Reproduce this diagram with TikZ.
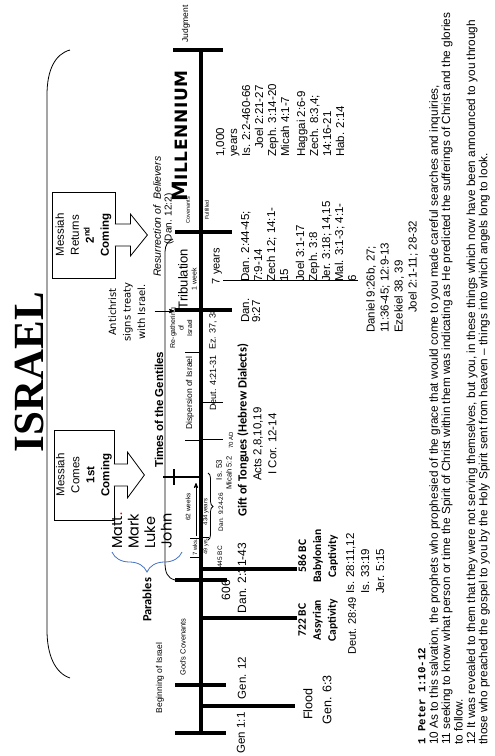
\documentclass[tikz,border=0pt]{standalone}
\usepackage{fontspec}
\setmainfont{Liberation Sans}
\newfontfamily\isfont{Liberation Serif}
\newfontfamily\ptfont{Liberation Mono}
\newfontfamily\bdfont{Carlito}
\newfontfamily\trfont{DejaVu Sans}
\newfontfamily\gofont{Poppins}
\usepackage{tikz}
\usetikzlibrary{arrows,calc,decorations.pathreplacing}
\newcommand{\fsz}[2]{\fontsize{#1}{#2}\selectfont}
\definecolor{braceblue}{RGB}{68,114,196}
\tikzstyle{line}=[draw]
\tikzstyle{tick}=[line width=4pt]
\tikzstyle{thinline}=[line width=0.8pt]
\tikzstyle{coming}=[draw, line width=0.8pt, minimum width=90pt, minimum height=60pt, align=center, font=\fsz{11.5}{15}]

\begin{document}
\begin{tikzpicture}[x=1pt,y=-1pt,>=stealth',every node/.style={rotate=90,inner sep=0pt}]
\useasboundingbox (0,0) rectangle (495,756);
%\draw[help lines] (0,0) grid (495,756);
% the time line
\draw[line,tick] (201,50)--(201,733);
\draw[line,tick] (175,733)--(226,733);
\draw[line,tick] (175,685)--(226,685);
\draw[line,tick] (201,706)--(295,706);
\draw[line,tick] (201,618)--(297,618);
\draw[line,tick] (175,580)--(227,580);
\draw[line,tick] (201,569)--(297,569);
\draw[line,tick] (175,310)--(232,310);
\draw[line,tick] (175,232)--(232,232);
\draw[line,tick] (173,50)--(223,50);
\draw[line,thinline] (185,440)--(201,440);
\draw[line,thinline] (185,352)--(201,352);
\draw[line,thinline] (201,439)--(223,439);
\draw[line,thinline] (201,402)--(223,402);
\draw[line,thinline] (190,557)--(201,557);
\draw[line,thinline] (190,538)--(201,538);
\draw[line,thinline] (201,537)--(209,537);
\draw[line,line width=1.6pt] (163,477)--(201,477);
\draw[line,line width=1.6pt] (174,469)--(174,485);
\draw[line,thinline,->] (196,536)--(196,483);
\draw[line,thinline] (223,280)--(358,280);
% brackets
\draw[line,thinline] (70,50) .. controls (55,54) and (47,70) .. (47,95)--(47,630) .. controls (47,655) and (55,673) .. (70,678);
\draw[line,thinline] (175,580) .. controls (167,578) and (165,572) .. (165,562)--(165,252) .. controls (165,245) and (168,241) .. (173,239);
\draw[line,braceblue,thinline,decorate,decoration={brace,amplitude=20pt}] (182,552)--(112,552);
\draw[line,thinline,decorate,decoration={brace,amplitude=5pt}] (208,473)--(208,540);

\node[font=\isfont\bfseries\fsz{43}{43}] (title) at (29,372) {ISRAEL};

% comings
\node[coming] (first) at (84,475) {Messiah\\Comes\\\textbf{1st}\\\textbf{Coming}};
\filldraw[line,thinline,fill=white] ($(first.south)+(-0.6,-11)$)--++(13.6,0)--++(0,-12)--++(17,23)--++(-17,23)--++(0,-12)--++(-13.6,0);
\node[coming,minimum width=86pt,minimum height=63pt] (second) at (83.5,235) {Messiah\\Returns\\\textbf{2\textsuperscript{nd}}\\\textbf{Coming}};
\filldraw[line,thinline,fill=white] ($(second.south)+(-0.6,-11)$)--++(15.6,0)--++(0,-10)--++(17,21)--++(-17,21)--++(0,-10)--++(-15.6,0);

\node[font=\trfont\fsz{10}{14.5},align=center] (treaty) at (127,312) {Antichrist\\signs treaty\\with Israel.};
\coordinate (treatyhead) at (174,311);
\draw[line,thinline,->] ($(treaty.south)+(9,-1)$)--(treatyhead);

% above the line
\node[font=\gofont\fsz{14.5}{16.5},align=left,anchor=north west] (gospels) at (112,549) {Matt\textcolor{red}{.}\\Mark\\Luke\\John};
\node[font=\bdfont\bfseries\fsz{12.5}{12.5}] (parables) at (147,600) {Parables};
\node[font=\fsz{8.5}{8.5}] (beginning) at (160,678) {Beginning of Israel};
\node[font=\fsz{7.5}{7.5}] (covenants) at (183,647) {God's Covenants};
\node[font=\bfseries\fsz{11.5}{11.5},anchor=west] (gentiles) at (159,468) {Times of the Gentiles};
\node[font=\fsz{6}{6}] (sevenwks) at (195,547) {7 wks.};
\node[font=\fsz{6.5}{6.5}] (sixtytwo) at (188,507) {62 weeks};
\node[font=\fsz{8.5}{8.5}] (dispersion) at (190,393) {Dispersion of Israel};
\node[font=\fsz{7}{8.5},align=center] (regather) at (181,328) {Re-gathering\\of\\Israel};
\node[font=\fsz{13}{13}] (trib) at (183,279) {Tribulation};
\node[font=\fsz{7}{7}] (week) at (194,279) {1 week};
\node[font=\itshape\fsz{10.5}{10.5},anchor=west] (resur) at (157,277) {Resurrection of \ Believers};
\node[font=\fsz{10}{10}] (danxii) at (169,219) {(Dan. 12:2)};
\node[font=\fsz{5.5}{5.5}] (cov) at (188,210) {Covenants};
\node[font=\fsz{5.5}{5.5}] (ful) at (207,210) {Fulfilled};
\node[font=\trfont\bfseries\addfontfeature{LetterSpace=4}] (mill) at (180,136) {\fsz{21}{21}M\fsz{17}{17}ILLENNIUM};
\node[font=\fsz{8.5}{8.5}] (judg) at (186,24) {Judgment};

% below the line
\node[font=\fsz{11.5}{11.5}] (genone) at (241,733) {Gen 1:1};
\node[font=\fsz{11.5}{11.5}] (gentwelve) at (242,678) {Gen. 12};
\node[font=\fsz{12.5}{12.5}] (flood) at (308,704) {Flood};
\node[font=\fsz{12.5}{12.5}] (gensix) at (327,700) {Gen. 6:3};
\node[font=\bdfont\bfseries\fsz{11.5}{15},align=center] (assyria) at (318,620) {722 BC\\Assyrian\\Captivity};
\node[font=\fsz{11}{11},anchor=west] (deut) at (352,655) {Deut. 28:49};
\node[font=\bdfont\bfseries\fsz{11.5}{15},align=center] (babylon) at (318,556) {586 BC\\Babylonian\\Captivity};
\node[font=\fsz{11.5}{15},align=left,anchor=north west] (isaiah) at (346,594) {Is. 28:11,12\\Is. 33:19\\Jer. 5:15};
\node[font=\fsz{12}{12}] (sixohsix) at (226,590) {606};
\node[font=\fsz{12}{12}] (danii) at (242,578) {Dan. 2:31-43};
\node[font=\fsz{5.5}{5.5}] (fortynine) at (206,546) {49 yrs.};
\node[font=\fsz{6}{6}] (fourthirtyfour) at (206,512) {434 years};
\node[font=\fsz{6.5}{6.5}] (bc) at (220,557) {445 BC};
\node[font=\fsz{6.5}{6.5}] (danix) at (221,512) {Dan. 9:24-26};
\node[font=\fsz{8}{8}] (isliii) at (219,470) {Is. 53};
\node[font=\fsz{7.5}{7.5}] (micah) at (229,473) {Micah 5:2};
\node[font=\fsz{6}{6}] (ad) at (231,440) {70 AD};
\node[font=\fsz{9}{9}] (deutiv) at (213,383) {Deut. 4:21-31};
\node[font=\fsz{9}{9}] (ezek) at (213,329) {Ez. 37, 38};
\node[font=\bdfont\bfseries\fsz{12.5}{12.5},anchor=west] (tongues) at (243,517) {Gift of Tongues (Hebrew Dialects)};
\node[font=\fsz{11.5}{15},align=center] (acts) at (265,444) {Acts 2,8,10,19\\I Cor. 12-14};
\node[font=\fsz{11}{11}] (sevenyrs) at (217,266) {7 years};
\node[font=\fsz{11.5}{11},align=left,anchor=north west] (danixxvii) at (241,323) {Dan.\\9:27};
\node[font=\fsz{11.5}{13},align=left,anchor=north west] (tribrefs) at (241,282) {Dan. 2:44-45;\\7:9-14\\Zech 12; 14:1-\\15\\[3pt]Joel 3:1-17\\Zeph. 3:8\\Jer. 3:18; 14,15\\Mal. 3:1-3; 4:1-\\6};
\node[font=\fsz{11.5}{14},align=left,anchor=north west] (danrefs) at (366,333) {Daniel 9:26b, 27;\\11:36-45; 12:9-13\\Ezekiel 38, 39\\\hspace{20pt}Joel 2:1-11; 28-32};
\node[font=\fsz{11.5}{13},align=left,anchor=north west] (millrefs) at (216,157) {1,000\\years\\Is. 2:2-460-66\\\hspace{8pt}Joel 2:21-27\\Zeph. 3:14-20\\Micah 4:1-7\\[3pt]Haggai 2:6-9\\Zech. 8:3,4;\\14:16-21\\Hab. 2:14};

% 1 Peter
\node[font=\fsz{11.8}{12.4},align=left,anchor=north west] (peter) at (418,745) {{\ptfont\bfseries\fsz{10.8}{12.4}1 Peter 1:10-12}\\10 As to this salvation, the prophets who prophesied of the grace that would come to you made careful searches and inquiries,\\11 seeking to know what person or time the Spirit of Christ within them was indicating as He predicted the sufferings of Christ and the glories\\to follow.\\12 It was revealed to them that they were not serving themselves, but you, in these things which now have been announced to you through\\those who preached the gospel to you by the Holy Spirit sent from heaven -- things into which angels long to look.};
\end{tikzpicture}
\end{document}
